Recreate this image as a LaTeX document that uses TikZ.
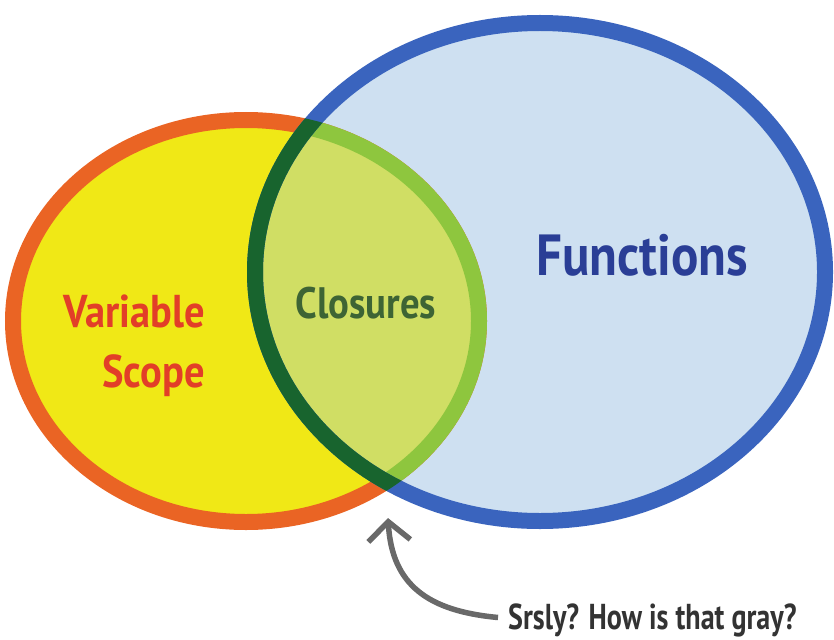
\documentclass[tikz,border=0pt]{standalone}
\usepackage{fontspec}
\setmainfont{PT Sans}
\newfontfamily\namefont{PT Sans}[FakeStretch=0.88]
\newfontfamily\notefont{PT Sans}[FakeStretch=0.78]
\usetikzlibrary{arrows.meta,positioning}
\definecolor{scopeline}{RGB}{234,100,36}
\definecolor{scopefill}{RGB}{240,232,22}
\definecolor{funcline}{RGB}{58,100,190}
\definecolor{funcfill}{RGB}{206,224,241}
\definecolor{closefill}{RGB}{208,222,100}
\definecolor{closedark}{RGB}{24,100,46}
\definecolor{closelight}{RGB}{142,198,62}
\definecolor{functext}{RGB}{42,62,150}
\definecolor{scopetext}{RGB}{226,62,40}
\definecolor{closetext}{RGB}{62,100,52}
\definecolor{notegray}{RGB}{105,105,105}
\tikzset{
  set line/.style={line width=16pt},
  set name/.style={inner sep=0pt, font=\namefont\bfseries\fontsize{#1}{60pt}\selectfont},
  callout/.style={notegray, line width=5.5pt, -{Straight Barb[length=19pt,width=42pt]}},
  vs ellipse/.style={x radius=233pt, y radius=201pt},
  fn ellipse/.style={x radius=285pt, y radius=249pt}}

\begin{document}
\begin{tikzpicture}[x=1pt,y=-1pt]
  \useasboundingbox (0,0) rectangle (834,639);
  \coordinate (vs) at (246,321);
  \coordinate (fn) at (540,272);

  % the two sets
  \fill[scopefill] (vs) ellipse [vs ellipse];
  \fill[funcfill] (fn) ellipse [fn ellipse];
  \draw[set line, scopeline] (vs) ellipse [vs ellipse];
  \begin{scope}
    \clip (fn) ellipse [fn ellipse];
    \fill[closefill] (vs) ellipse [vs ellipse];
    \draw[set line, closelight] (vs) ellipse [vs ellipse];
  \end{scope}
  \draw[set line, funcline] (fn) ellipse [fn ellipse];
  \begin{scope}
    \clip (vs) ellipse [x radius=241pt, y radius=209pt];
    \draw[set line, closedark] (fn) ellipse [fn ellipse];
  \end{scope}

  \node[set name=58pt, functext, anchor=base] (functions) at (642,275) {Functions};
  \node[set name=44pt, closetext, anchor=base] (closures) at (366,318) {Closures};
  \node[set name=46pt, scopetext, align=right, anchor=base east] (varscope) at (205,387) {Variable\\Scope};

  \node[inner xsep=10pt, inner ysep=0pt, anchor=base west, font=\notefont\bfseries\fontsize{36pt}{40pt}\selectfont, black!80] (srsly) at (498,629) {Srsly? How is that gray?};
  \coordinate (tip) at (388,518);
  \draw[callout] ([yshift=9pt]srsly.mid west) .. controls (428,611) and (392,585) .. (tip);
\end{tikzpicture}
\end{document}
